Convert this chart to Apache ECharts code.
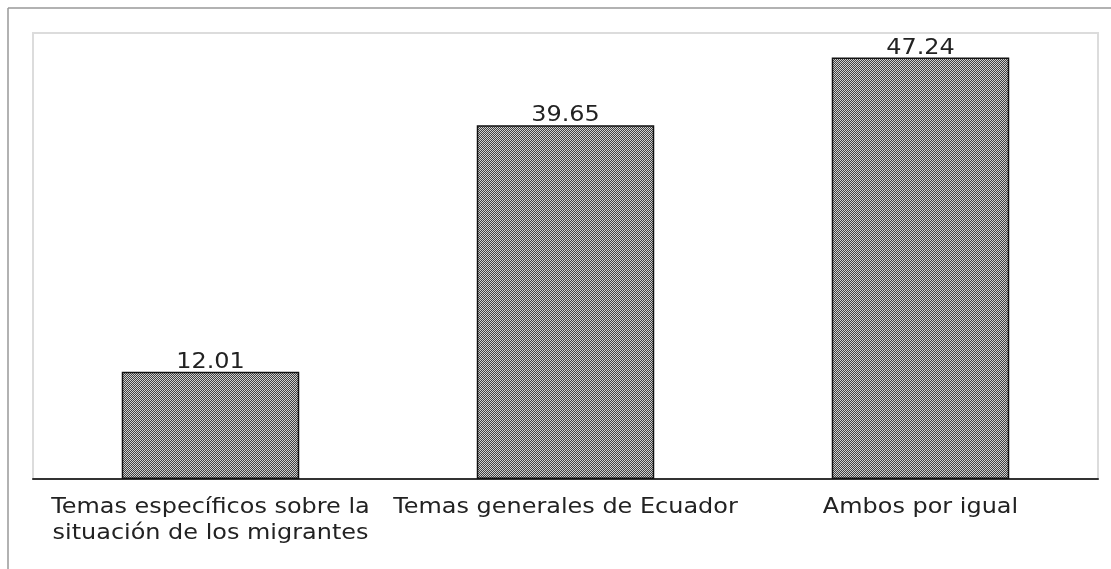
<!DOCTYPE html>
<html>
<head>
<meta charset="utf-8">
<script src="https://cdn.jsdelivr.net/npm/echarts@6/dist/echarts.min.js"></script>
<style>html,body{margin:0;padding:0;background:#fff;}#c{width:1111px;height:569px;}</style>
</head>
<body>
<div id="c"></div>
<script>
var categories = ['Temas específicos sobre la\nsituación de los migrantes', 'Temas generales de Ecuador', 'Ambos por igual'];
var values = [12.01, 39.65, 47.24];

function makePattern() {
  var cv = document.createElement('canvas');
  cv.width = 2; cv.height = 2;
  var ctx = cv.getContext('2d');
  ctx.fillStyle = '#404040'; ctx.fillRect(0, 0, 2, 2);
  ctx.fillStyle = '#cfcfcf'; ctx.fillRect(0, 0, 1, 1); ctx.fillRect(1, 1, 1, 1);
  return cv;
}

var FONT = '21px "DejaVu Sans"';
var SX = 1.14;
var baseGraphic = [
  { type: 'line', shape: { x1: 8, y1: 8, x2: 1111, y2: 8 }, style: { stroke: '#999', lineWidth: 1.5 }, z: 10 },
  { type: 'line', shape: { x1: 8, y1: 8, x2: 8, y2: 569 }, style: { stroke: '#999', lineWidth: 1.5 }, z: 10 }
];

var chart = echarts.init(document.getElementById('c'));
chart.setOption({
  animation: false,
  grid: { left: 33, right: 13, top: 33, bottom: 90, show: true, borderColor: '#dcdcdc', borderWidth: 2, backgroundColor: '#fff' },
  graphic: baseGraphic,
  xAxis: {
    type: 'category',
    data: categories,
    axisLine: { show: true, lineStyle: { color: '#333', width: 2 } },
    axisTick: { show: false },
    axisLabel: { show: false }
  },
  yAxis: { type: 'value', min: 0, max: 50, show: false, splitLine: { show: false } },
  series: [{
    type: 'bar',
    data: values,
    barWidth: '50%',
    itemStyle: { color: { image: makePattern(), repeat: 'repeat' }, borderColor: '#111', borderWidth: 1.5 }
  }]
});

var axisY = chart.convertToPixel({ yAxisIndex: 0 }, 0);
var texts = [];
categories.forEach(function (c, i) {
  var cx = chart.convertToPixel({ xAxisIndex: 0 }, i);
  var top = chart.convertToPixel({ yAxisIndex: 0 }, values[i]);
  texts.push({ type: 'text', x: cx, y: top + 1, scaleX: SX, z: 20,
    style: { text: values[i].toFixed(2), font: FONT, fill: '#222', align: 'center', verticalAlign: 'bottom' } });
  texts.push({ type: 'text', x: cx, y: axisY + 16, scaleX: SX, z: 20,
    style: { text: c, font: FONT, lineHeight: 26, fill: '#222', align: 'center', verticalAlign: 'top' } });
});
chart.setOption({ graphic: baseGraphic.concat(texts) }, { replaceMerge: ['graphic'] });
</script>
</body>
</html>
